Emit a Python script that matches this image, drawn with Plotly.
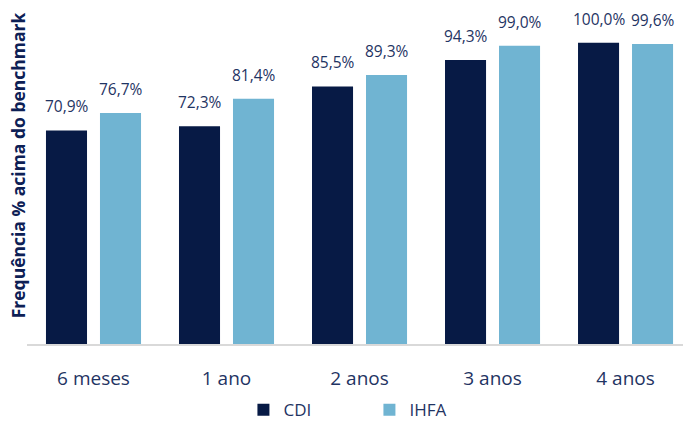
import plotly.graph_objects as go

categories = ["6 meses", "1 ano", "2 anos", "3 anos", "4 anos"]
cdi = [70.9, 72.3, 85.5, 94.3, 100.0]
ihfa = [76.7, 81.4, 89.3, 99.0, 99.6]
series_names = ["CDI", "IHFA"]
colors = ["#071a45", "#70b4d2"]
text_color = "#1f3463"

def fmt(v):
    return f"{v:.1f}%".replace(".", ",")

fig = go.Figure()
for name, vals, col in zip(series_names, [cdi, ihfa], colors):
    fig.add_trace(go.Bar(x=categories, y=vals, name=name, marker_color=col,
                         marker_line_width=0, hoverinfo="skip"))

# value labels
for vals, shift in [(cdi, -27), (ihfa, 27)]:
    for c, v in zip(categories, vals):
        fig.add_annotation(x=c, y=v, xref="x", yref="y", text=fmt(v),
                           showarrow=False, xshift=shift, yshift=24,
                           yanchor="middle", xanchor="center",
                           font=dict(family="Open Sans", size=15.5, color=text_color))

fig.add_annotation(text="<b>Frequência % acima do benchmark</b>", xref="paper", yref="paper",
                   x=-0.0137, y=0.535, textangle=-90, showarrow=False,
                   xanchor="center", yanchor="middle",
                   font=dict(family="Open Sans", size=17.5, color="#0d2055"))

fig.update_layout(
    width=683, height=424,
    margin=dict(l=27, r=0, t=10, b=80, autoexpand=False),
    paper_bgcolor="white", plot_bgcolor="white",
    barmode="group", bargap=0.188, bargroupgap=0.24,
    showlegend=True,
    legend=dict(orientation="h", x=0.522, xanchor="center", y=-0.252, yanchor="bottom",
                font=dict(family="Open Sans", size=17, color=text_color),
                borderwidth=0, entrywidth=81, entrywidthmode="pixels"),
    xaxis=dict(range=[-0.5, 4.432], showgrid=False, showline=True, linecolor="#d9d9d9",
               linewidth=2, ticks="", ticklabelstandoff=16, automargin=False,
               tickfont=dict(family="Open Sans", size=19, color=text_color)),
    yaxis=dict(range=[0, 110.86], showgrid=False, showticklabels=False, zeroline=False,
               showline=False, automargin=False),
)

fig.write_html("out.html", config={"displayModeBar": False},
               post_script="document.body.style.margin='0';document.body.style.overflow='hidden';")
